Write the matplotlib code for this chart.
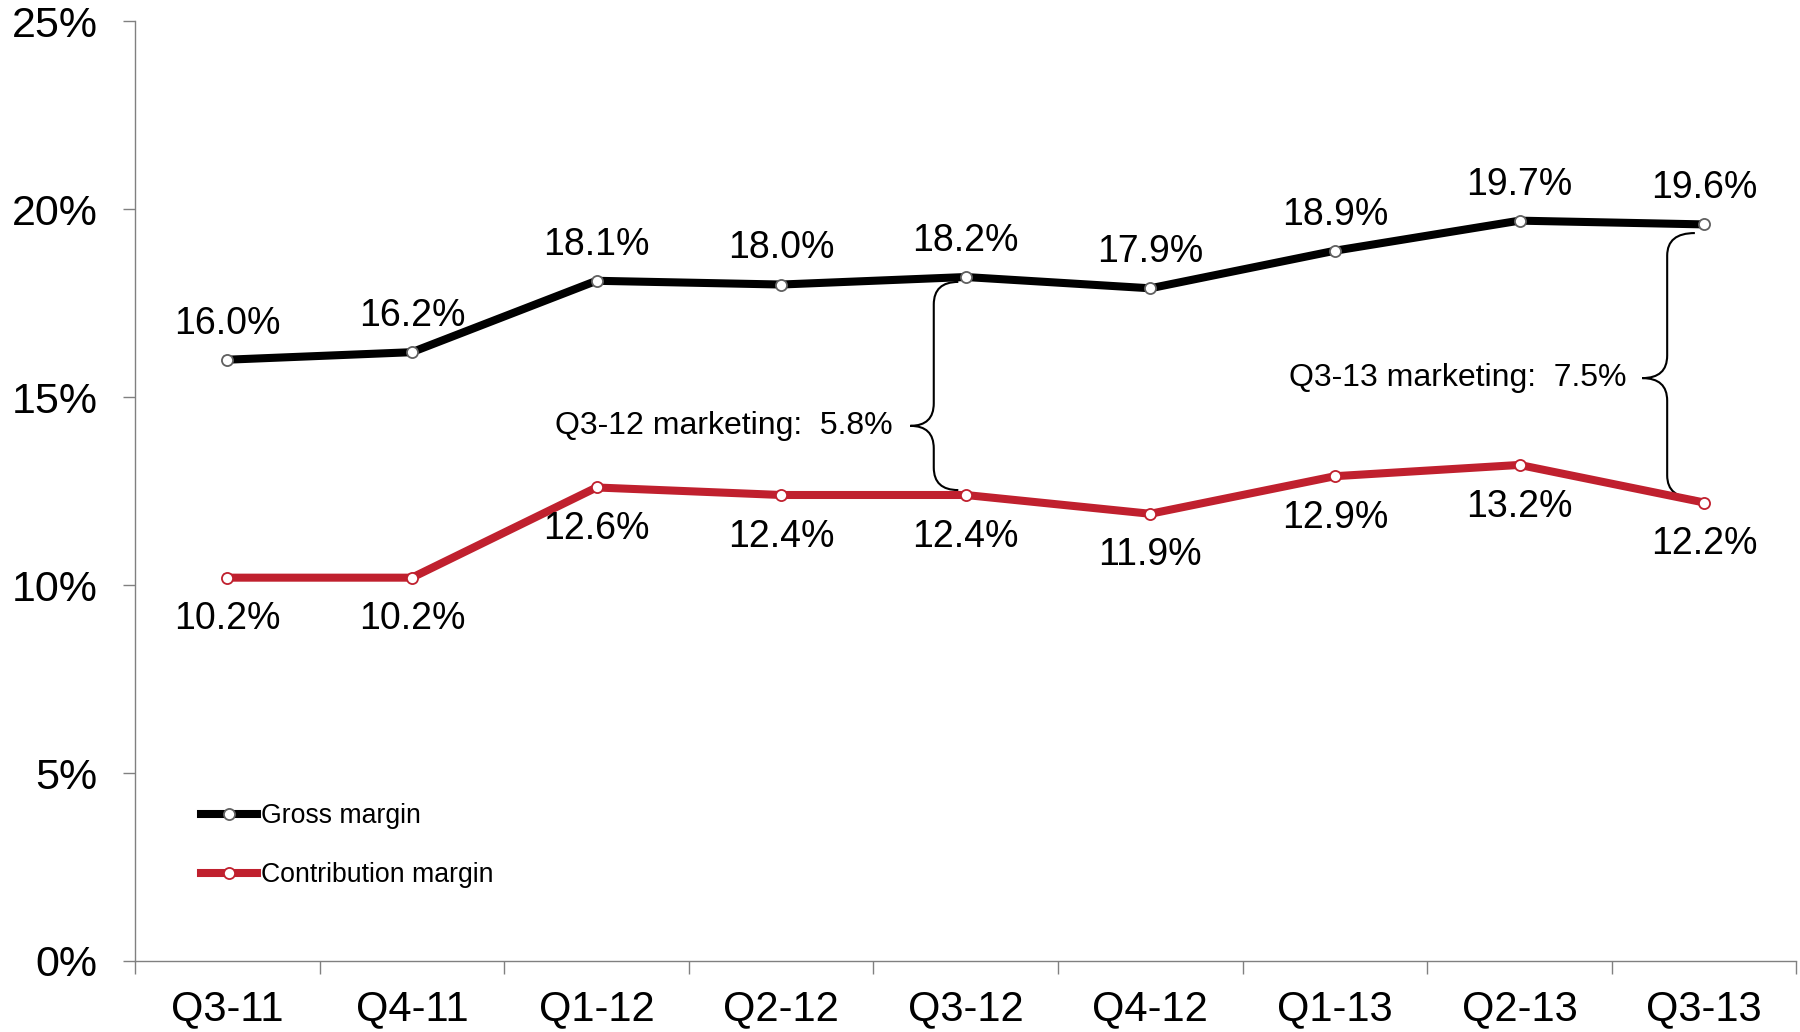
"""Gross and contribution margin by quarter."""
import matplotlib
matplotlib.use("Agg")
import matplotlib.pyplot as plt
from matplotlib.path import Path
from matplotlib.patches import PathPatch

quarters = ["Q3-11", "Q4-11", "Q1-12", "Q2-12", "Q3-12",
            "Q4-12", "Q1-13", "Q2-13", "Q3-13"]
gross = [16.0, 16.2, 18.1, 18.0, 18.2, 17.9, 18.9, 19.7, 19.6]
contribution = [10.2, 10.2, 12.6, 12.4, 12.4, 11.9, 12.9, 13.2, 12.2]
marketing_notes = [("Q3-12", "Q3-12 marketing:  5.8%"),
                   ("Q3-13", "Q3-13 marketing:  7.5%")]

BLACK = "#000000"
RED = "#C0202E"

plt.rcParams["font.family"] = ["Liberation Sans", "DejaVu Sans"]

fig = plt.figure(figsize=(18, 10.32), dpi=100)
ax = fig.add_axes([0.075, 0.0688, 0.923, 0.9104])

x = list(range(len(quarters)))
ax.plot(x, gross, color=BLACK, lw=5.8, marker="o", ms=8, mfc="white",
        mec="#606060", mew=1.3, label="Gross margin", zorder=3)
ax.plot(x, contribution, color=RED, lw=5.8, marker="o", ms=8, mfc="white",
        mec=RED, mew=1.3, label="Contribution margin", zorder=3)

for i, v in enumerate(gross):
    ax.annotate(f"{v:.1f}%", (i, v), xytext=(0, 26), textcoords="offset points",
                ha="center", va="center", fontsize=27)
for i, v in enumerate(contribution):
    ax.annotate(f"{v:.1f}%", (i, v), xytext=(0, -30), textcoords="offset points",
                ha="center", va="center", fontsize=27)


def brace(xc, y_top, y_bot, y_tip, dv, dt, de, r):
    xv, xt, xe = xc + dv, xc + dt, xc + de
    verts = [(xe, y_top), (xv, y_top), (xv, y_top - r),
             (xv, y_tip + r), (xv, y_tip), (xt, y_tip),
             (xv, y_tip), (xv, y_tip - r),
             (xv, y_bot + r), (xv, y_bot), (xe, y_bot)]
    codes = [Path.MOVETO, Path.CURVE3, Path.CURVE3,
             Path.LINETO, Path.CURVE3, Path.CURVE3,
             Path.CURVE3, Path.CURVE3,
             Path.LINETO, Path.CURVE3, Path.CURVE3]
    ax.add_patch(PathPatch(Path(verts, codes), fill=False, lw=1.5,
                           color="black", zorder=2))


# brace geometry per note: top end, bottom end, tip height, offsets
brace_shape = [(18.07, 12.53, 14.24, -0.173, -0.30, -0.04, 0.6, -0.395),
               (19.37, 12.32, 15.51, -0.20, -0.335, -0.05, 0.6, -0.42)]
for (q, text), (yt, yb, ytip, dv, dt, de, r, dx) in zip(marketing_notes, brace_shape):
    xc = quarters.index(q)
    brace(xc, yt, yb, ytip, dv, dt, de, r)
    ax.text(xc + dx, ytip, text, ha="right", va="center", fontsize=23)

ax.set_xlim(-0.5, len(quarters) - 0.5)
ax.set_ylim(0, 25)
ax.set_yticks(range(0, 26, 5))
ax.set_yticklabels([f"{t}%" for t in range(0, 26, 5)], fontsize=31)
ax.set_xticks([i - 0.5 for i in range(len(quarters) + 1)])
ax.set_xticklabels([])
ax.set_xticks(x, minor=True)
ax.set_xticklabels(quarters, minor=True, fontsize=30)
ax.tick_params(axis="x", which="major", direction="out", length=9,
               width=1, color="#808080")
ax.tick_params(axis="x", which="minor", length=0, pad=20)
ax.tick_params(axis="y", direction="out", length=9, width=1,
               color="#808080", pad=18)

for side in ["top", "right"]:
    ax.spines[side].set_visible(False)
for side in ["left", "bottom"]:
    ax.spines[side].set_color("#808080")
    ax.spines[side].set_linewidth(1)

ax.legend(loc="center left", bbox_to_anchor=(0.1117, 0.1807),
          bbox_transform=fig.transFigure, frameon=False, fontsize=19.2,
          handlelength=2.1, handletextpad=0.15, labelspacing=1.25,
          borderpad=0, borderaxespad=0)

fig.savefig("out.png", dpi=100)
